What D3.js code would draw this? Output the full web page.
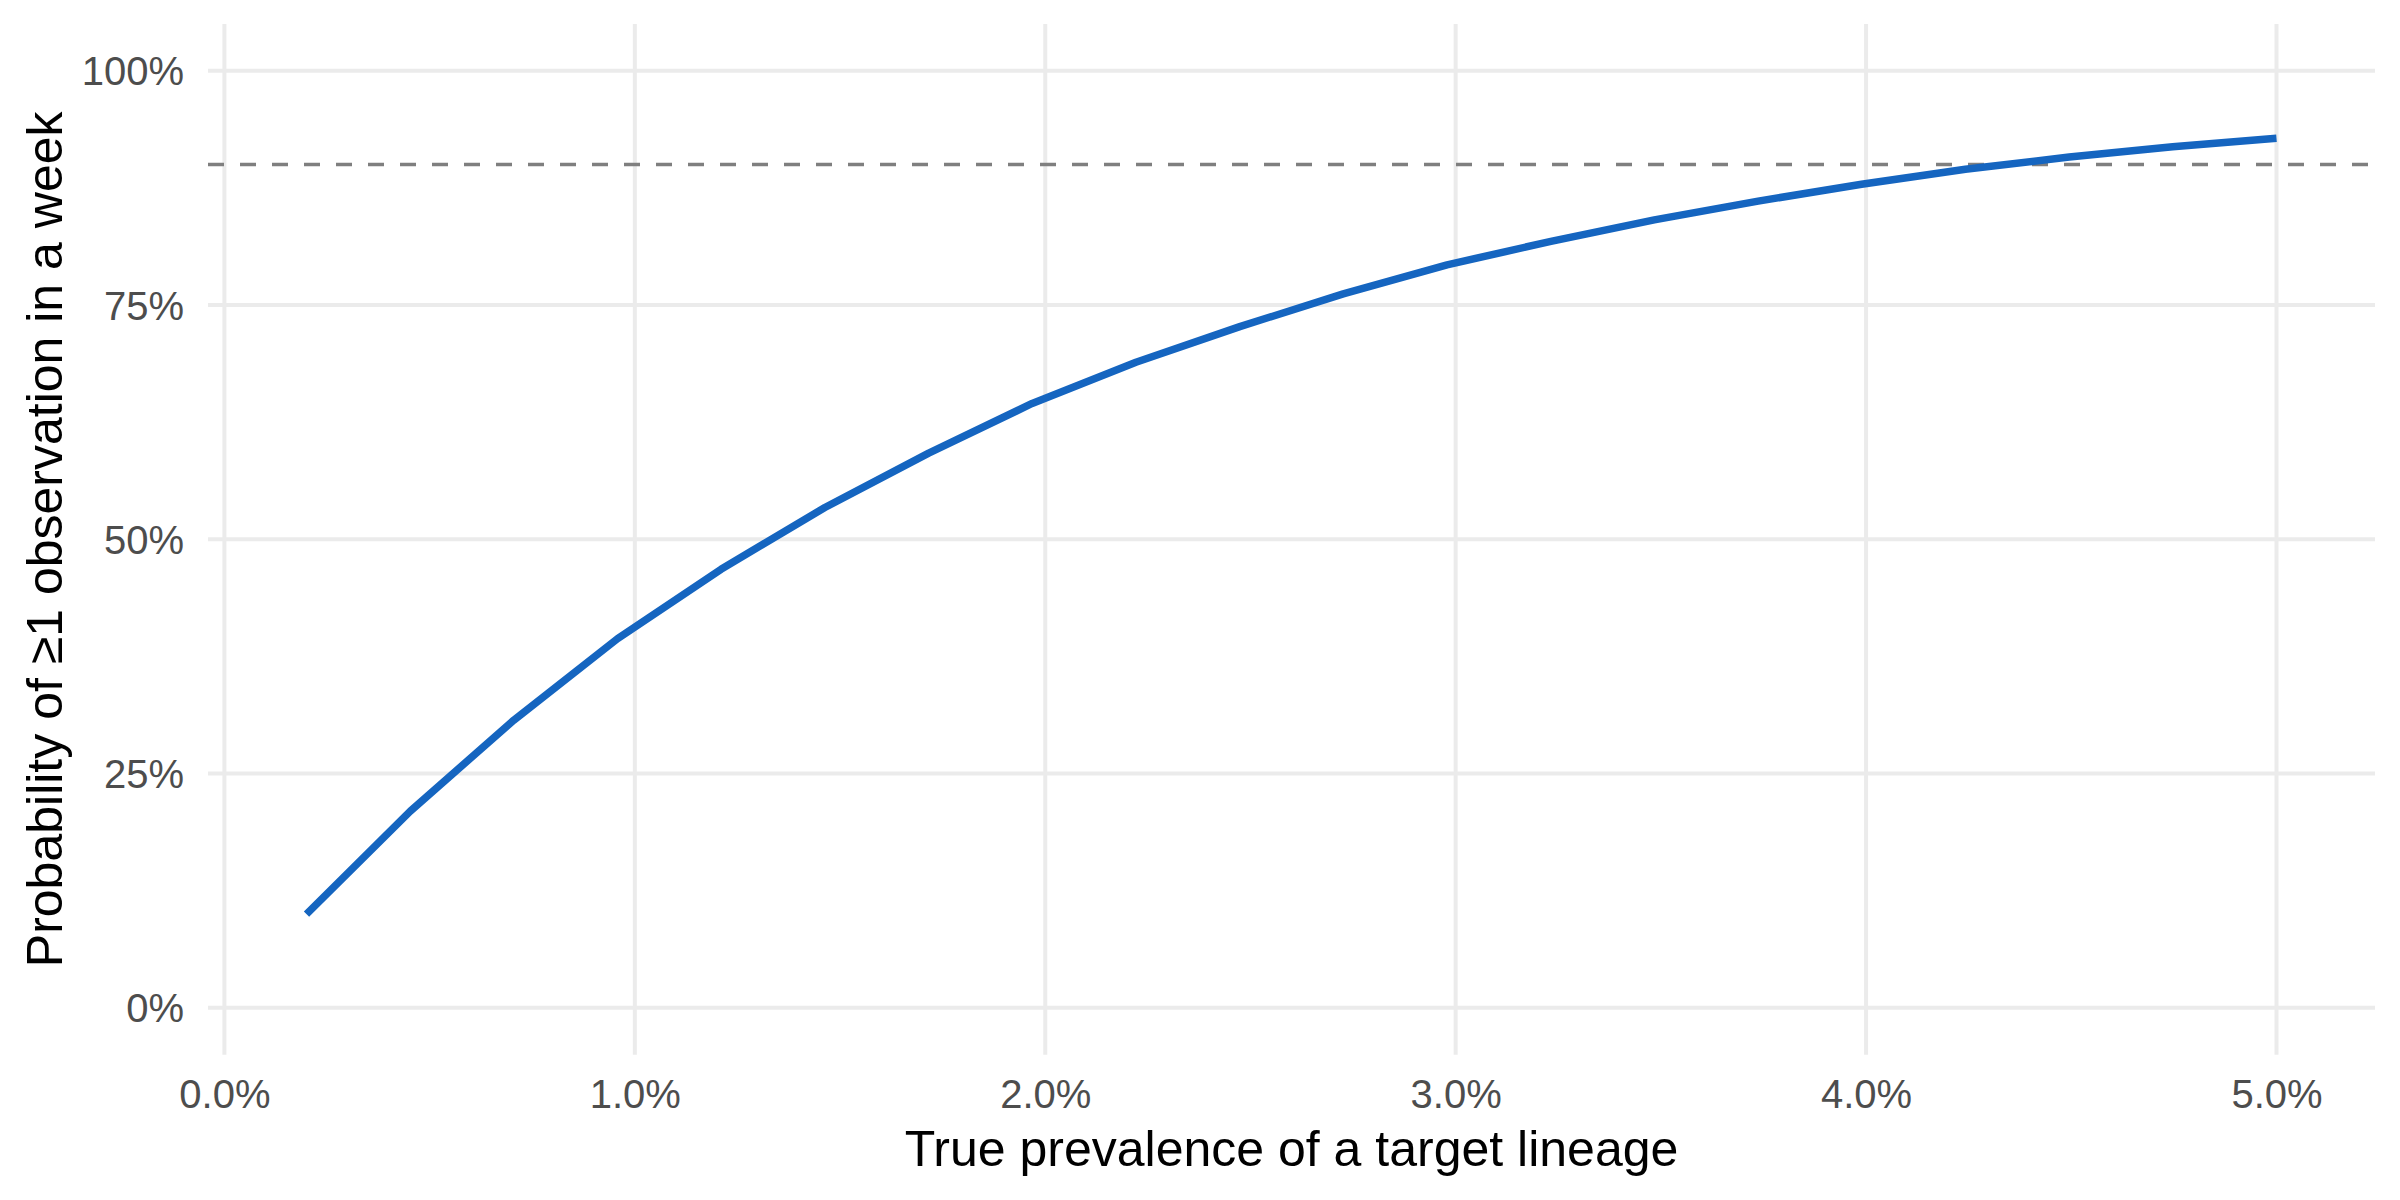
<!DOCTYPE html>
<html>
<head>
<meta charset="utf-8">
<script src="https://cdn.jsdelivr.net/npm/d3@7"></script>
<style>
  html, body { margin: 0; padding: 0; background: #ffffff; }
  svg { display: block; font-family: "Liberation Sans", Arial, sans-serif; }
</style>
</head>
<body>
<svg id="chart" width="2400" height="1200"></svg>
<script>
// ---- Data ----
const prevalence = [0.002, 0.00453, 0.00705, 0.00958, 0.0121, 0.01463, 0.01716, 0.01968, 0.02221, 0.02474,
                    0.02726, 0.02979, 0.03232, 0.03484, 0.03737, 0.03989, 0.04242, 0.04495, 0.04747, 0.05];
const probability = [0.100, 0.210, 0.307, 0.394, 0.468, 0.534, 0.592, 0.645, 0.689, 0.727,
                     0.762, 0.793, 0.818, 0.841, 0.861, 0.879, 0.895, 0.908, 0.919, 0.928];
const xTicks = [0, 0.01, 0.02, 0.03, 0.04, 0.05];
const xTickLabels = ["0.0%", "1.0%", "2.0%", "3.0%", "4.0%", "5.0%"];
const yTicks = [0, 0.25, 0.5, 0.75, 1.0];
const yTickLabels = ["0%", "25%", "50%", "75%", "100%"];
const threshold = 0.9;
const xTitle = "True prevalence of a target lineage";
const yTitle = "Probability of \u22651 observation in a week";

// ---- Layout ----
const panel = { left: 208, right: 2375, top: 24, bottom: 1054.7 };
const svg = d3.select("#chart");

const x = d3.scaleLinear().domain([-0.0004, 0.0524]).range([panel.left, panel.right]);
const y = d3.scaleLinear().domain([-0.05, 1.05]).range([panel.bottom, panel.top]);

const grid = svg.append("g");
// vertical major gridlines
grid.selectAll("line.vx").data(xTicks).join("line")
  .attr("x1", d => x(d)).attr("x2", d => x(d))
  .attr("y1", panel.top).attr("y2", panel.bottom)
  .attr("stroke", "#EBEBEB").attr("stroke-width", 4);
// horizontal major gridlines
grid.selectAll("line.hy").data(yTicks).join("line")
  .attr("x1", panel.left).attr("x2", panel.right)
  .attr("y1", d => y(d)).attr("y2", d => y(d))
  .attr("stroke", "#EBEBEB").attr("stroke-width", 4);

// axes (no domain line, no ticks)
const xAxis = d3.axisBottom(x).tickValues(xTicks).tickFormat((d, i) => xTickLabels[i]).tickSize(0).tickPadding(0);
const gx = svg.append("g").attr("transform", `translate(0,${panel.bottom})`).call(xAxis);
gx.select(".domain").remove();
gx.selectAll("text").attr("font-size", 40).attr("fill", "#4D4D4D")
  .attr("font-family", "Liberation Sans, Arial, sans-serif")
  .attr("dy", null).attr("y", 53.5);

const yAxis = d3.axisLeft(y).tickValues(yTicks).tickFormat((d, i) => yTickLabels[i]).tickSize(0).tickPadding(0);
const gy = svg.append("g").attr("transform", `translate(${panel.left},0)`).call(yAxis);
gy.select(".domain").remove();
gy.selectAll("text").attr("font-size", 40).attr("fill", "#4D4D4D")
  .attr("font-family", "Liberation Sans, Arial, sans-serif")
  .attr("x", -24).attr("dy", "0.35em");

// threshold dashed line
svg.append("line")
  .attr("x1", panel.left).attr("x2", panel.right)
  .attr("y1", y(threshold)).attr("y2", y(threshold))
  .attr("stroke", "#7F7F7F").attr("stroke-width", 3.5)
  .attr("stroke-dasharray", "16,16");

// curve
const pts = prevalence.map((p, i) => [p, probability[i]]);
svg.append("path")
  .datum(pts)
  .attr("fill", "none")
  .attr("stroke", "#1565C0")
  .attr("stroke-width", 7.5)
  .attr("stroke-linejoin", "round")
  .attr("stroke-linecap", "butt")
  .attr("d", d3.line().x(d => x(d[0])).y(d => y(d[1])));

// axis titles
svg.append("text")
  .attr("x", (panel.left + panel.right) / 2).attr("y", 1166)
  .attr("text-anchor", "middle").attr("font-size", 50).attr("fill", "#000000")
  .text(xTitle);

svg.append("text")
  .attr("transform", `translate(62,${(panel.top + panel.bottom) / 2}) rotate(-90)`)
  .attr("text-anchor", "middle").attr("font-size", 50).attr("fill", "#000000")
  .text(yTitle);
</script>
</body>
</html>
